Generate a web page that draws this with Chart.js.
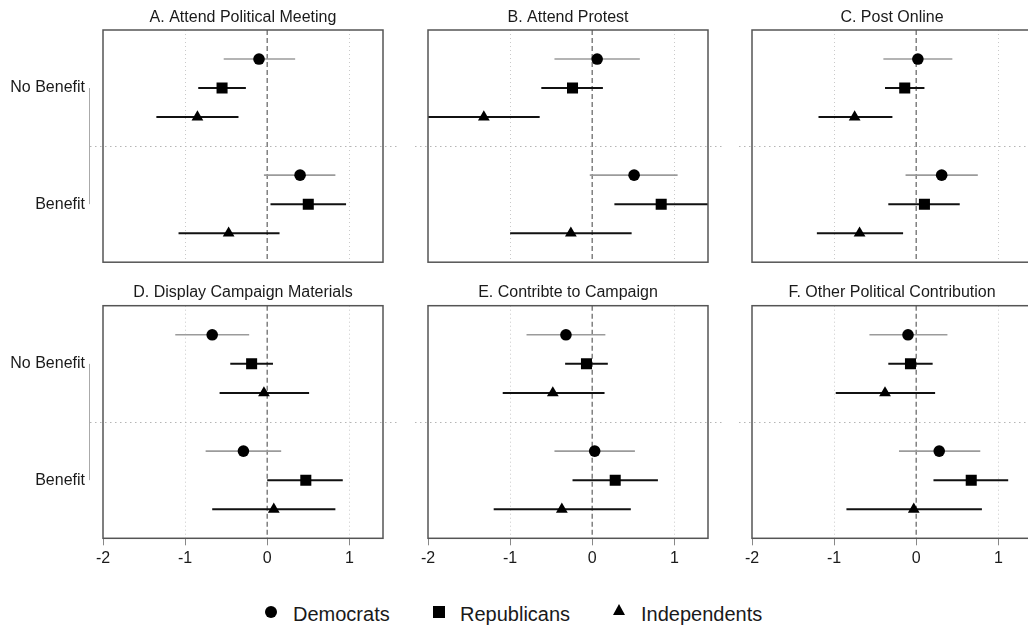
<!DOCTYPE html>
<html>
<head>
<meta charset="utf-8">
<title>Political participation by party</title>
<script src="https://cdn.jsdelivr.net/npm/chart.js@4.4.1/dist/chart.umd.min.js"></script>
<style>
  html, body { margin: 0; padding: 0; background: #fff; }
  body {
    width: 1028px; height: 626px; position: relative; overflow: hidden;
    font-family: "Liberation Sans", Arial, Helvetica, sans-serif; color: #1a1a1a;
  }
  canvas.panel { position: absolute; }
  .key { position: absolute; font-size: 20px; line-height: 20px; white-space: nowrap; }
  .dot { position: absolute; width: 12px; height: 12px; border-radius: 50%; background: #000; }
  .sq { position: absolute; width: 12px; height: 12px; background: #000; }
  .tri { position: absolute; width: 0; height: 0; border-left: 6.5px solid transparent;
         border-right: 6.5px solid transparent; border-bottom: 11px solid #000; }
</style>
</head>
<body>

<span class="dot" style="left:265px; top:606px"></span>
<span class="key" style="left:293px; top:604px">Democrats</span>
<span class="sq" style="left:433px; top:606px"></span>
<span class="key" style="left:460px; top:604px">Republicans</span>
<span class="tri" style="left:613px; top:604px"></span>
<span class="key" style="left:641px; top:604px">Independents</span>

<script>
const panelTitles = [
  'A. Attend Political Meeting', 'B. Attend Protest', 'C. Post Online',
  'D. Display Campaign Materials', 'E. Contribte to Campaign', 'F. Other Political Contribution'
];
const conditions = ['No Benefit', 'Benefit'];
const groups = ['Democrats', 'Republicans', 'Independents'];
const xTicks = [-2, -1, 0, 1];
const xMin = -2, xMax = 1.41;

// one row per panel: [no benefit, benefit]
const demEst = [[-0.10, 0.40], [0.06, 0.51], [0.02, 0.31], [-0.67, -0.29], [-0.32, 0.03], [-0.10, 0.28]];
const demLo  = [[-0.53, -0.04], [-0.46, -0.03], [-0.40, -0.13], [-1.12, -0.75], [-0.80, -0.46], [-0.57, -0.21]];
const demHi  = [[0.34, 0.83], [0.58, 1.04], [0.44, 0.75], [-0.22, 0.17], [0.16, 0.52], [0.38, 0.78]];

const repEst = [[-0.55, 0.50], [-0.24, 0.84], [-0.14, 0.10], [-0.19, 0.47], [-0.07, 0.28], [-0.07, 0.67]];
const repLo  = [[-0.84, 0.04], [-0.62, 0.27], [-0.38, -0.34], [-0.45, 0.00], [-0.33, -0.24], [-0.34, 0.21]];
const repHi  = [[-0.26, 0.96], [0.13, 1.41], [0.10, 0.53], [0.07, 0.92], [0.19, 0.80], [0.20, 1.12]];

const indEst = [[-0.85, -0.47], [-1.32, -0.26], [-0.75, -0.69], [-0.04, 0.08], [-0.48, -0.37], [-0.38, -0.03]];
const indLo  = [[-1.35, -1.08], [-2.00, -1.00], [-1.19, -1.21], [-0.58, -0.67], [-1.09, -1.20], [-0.98, -0.85]];
const indHi  = [[-0.35, 0.15], [-0.64, 0.48], [-0.29, -0.16], [0.51, 0.83], [0.15, 0.47], [0.23, 0.80]];

const est = [demEst, repEst, indEst];
const lo = [demLo, repLo, indLo];
const hi = [demHi, repHi, indHi];

// marker + interval styling per group
const markerStyle = ['circle', 'rect', 'triangle'];
const markerRadius = [5.8, 7.8, 6.8];
const ciColor = ['#9b9b9b', '#111', '#111'];
const ciWidth = [1.6, 2, 2];

Chart.defaults.font.family = '"Liberation Sans", Arial, Helvetica, sans-serif';
Chart.defaults.color = '#1a1a1a';

function seg(ctx, x1, y1, x2, y2) {
  ctx.beginPath();
  ctx.moveTo(x1, y1);
  ctx.lineTo(x2, y2);
  ctx.stroke();
}

// grid, zero line, separator, bracket and confidence intervals
const coefPanel = {
  id: 'coefPanel',
  beforeDatasetsDraw(chart, args, opts) {
    const { ctx, chartArea: a, scales: { x, y } } = chart;
    ctx.save();

    ctx.lineWidth = 1;
    ctx.strokeStyle = '#c9c9c9';
    ctx.setLineDash([1, 3]);
    [-1, 1].forEach(v => {
      const px = Math.round(x.getPixelForValue(v)) + 0.5;
      seg(ctx, px, a.top, px, a.bottom);
    });

    ctx.strokeStyle = '#b5b5b5';
    ctx.setLineDash([1.5, 3.5]);
    const sy = Math.round(y.getPixelForValue(4)) + 0.5;
    seg(ctx, a.left - 13, sy, a.right + 14, sy);

    if (opts.bracket) {
      ctx.setLineDash([]);
      ctx.strokeStyle = '#aaa';
      const bx = a.left - 13.5;
      seg(ctx, bx, y.getPixelForValue(2), bx, y.getPixelForValue(6));
    }

    ctx.strokeStyle = '#808080';
    ctx.lineWidth = 1.5;
    ctx.setLineDash([5, 3]);
    const zx = x.getPixelForValue(0);
    seg(ctx, zx, a.top, zx, a.bottom);

    ctx.beginPath();
    ctx.rect(a.left, a.top, a.right - a.left, a.bottom - a.top);
    ctx.clip();
    ctx.setLineDash([]);
    chart.data.datasets.forEach(ds => {
      ctx.strokeStyle = ds.ciColor;
      ctx.lineWidth = ds.ciWidth;
      ds.data.forEach((pt, i) => {
        const py = y.getPixelForValue(pt.y);
        seg(ctx, x.getPixelForValue(ds.ciLo[i]), py, x.getPixelForValue(ds.ciHi[i]), py);
      });
    });
    ctx.restore();
  },
  afterDatasetsDraw(chart) {
    const { ctx, chartArea: a } = chart;
    ctx.save();
    ctx.strokeStyle = '#555';
    ctx.lineWidth = 1.5;
    ctx.strokeRect(a.left, a.top, a.right - a.left, a.bottom - a.top);
    ctx.restore();
  }
};

const colLeft = [0, 325, 649];
const rowTop = [0, 270];
const rowHeight = [270, 300];

panelTitles.forEach((title, p) => {
  const col = p % 3, row = Math.floor(p / 3);
  const bottomRow = row === 1;

  const canvas = document.createElement('canvas');
  canvas.className = 'panel';
  canvas.width = 398;
  canvas.height = rowHeight[row];
  canvas.style.left = colLeft[col] + 'px';
  canvas.style.top = rowTop[row] + 'px';
  document.body.appendChild(canvas);

  const datasets = groups.map((name, g) => ({
    label: name,
    data: conditions.map((c, k) => ({ x: est[g][p][k], y: g + 1 + 4 * k })),
    ciLo: conditions.map((c, k) => lo[g][p][k]),
    ciHi: conditions.map((c, k) => hi[g][p][k]),
    ciColor: ciColor[g],
    ciWidth: ciWidth[g],
    pointStyle: markerStyle[g],
    pointRadius: markerRadius[g],
    backgroundColor: '#000',
    borderColor: '#000',
    borderWidth: 0
  }));

  new Chart(canvas, {
    type: 'scatter',
    data: { datasets },
    plugins: [coefPanel],
    options: {
      responsive: false,
      animation: false,
      events: [],
      layout: { padding: { left: 0, right: 15, top: 0, bottom: bottomRow ? 1.7 : 6 } },
      plugins: {
        legend: { display: false },
        tooltip: { enabled: false },
        coefPanel: { bracket: col === 0 },
        title: {
          display: true,
          text: title,
          fullSize: false,
          color: '#1a1a1a',
          font: { size: 16, weight: 'normal' },
          padding: bottomRow ? { top: 13.4, bottom: 3.1 } : { top: 8.4, bottom: 2.4 }
        }
      },
      scales: {
        x: {
          type: 'linear',
          min: xMin,
          max: xMax,
          display: bottomRow,
          afterBuildTicks: s => { s.ticks = xTicks.map(v => ({ value: v })); },
          afterFit: s => {
            if (bottomRow) s.height = 30;
            s.paddingLeft = s.paddingRight = 0;
          },
          ticks: { font: { size: 16 }, color: '#1a1a1a', padding: 4, maxRotation: 0 },
          grid: { drawOnChartArea: false, drawTicks: true, tickLength: 7, color: '#888', lineWidth: 1 },
          border: { display: false }
        },
        y: {
          type: 'linear',
          min: 0,
          max: 8,
          reverse: true,
          afterBuildTicks: s => { s.ticks = [{ value: 2 }, { value: 6 }]; },
          afterFit: s => {
            s.width = 103;
            s.paddingTop = s.paddingBottom = 0;
          },
          ticks: {
            display: col === 0,
            padding: 18,
            font: { size: 16 },
            color: '#1a1a1a',
            callback: v => (v === 2 ? conditions[0] : v === 6 ? conditions[1] : '')
          },
          grid: { display: false, drawTicks: false },
          border: { display: false }
        }
      }
    }
  });
});
</script>
</body>
</html>
